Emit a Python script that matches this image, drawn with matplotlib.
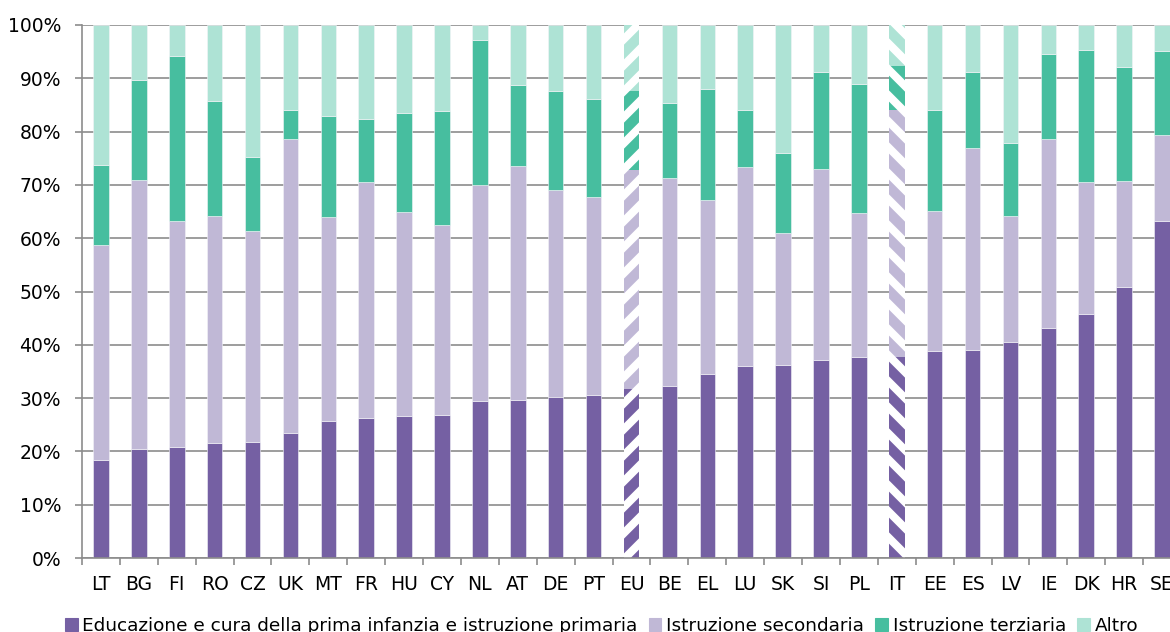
import matplotlib
matplotlib.use('Agg')
import matplotlib.pyplot as plt
import numpy as np

countries = ['LT', 'BG', 'FI', 'RO', 'CZ', 'UK', 'MT', 'FR', 'HU', 'CY', 'NL', 'AT', 'DE', 'PT', 'EU',
             'BE', 'EL', 'LU', 'SK', 'SI', 'PL', 'IT', 'EE', 'ES', 'LV', 'IE', 'DK', 'HR', 'SE']

# cumulative tops (%)
primaria = [18.4, 20.5, 20.8, 21.6, 21.8, 23.4, 25.7, 26.2, 26.7, 26.8, 29.5, 29.7, 30.3, 30.6, 31.8,
            32.3, 34.5, 36.1, 36.3, 37.1, 37.8, 37.8, 38.8, 39.1, 40.6, 43.2, 45.8, 50.8, 63.3]
top_secondaria = [58.8, 70.9, 63.2, 64.2, 61.3, 78.6, 64.0, 70.5, 64.9, 62.5, 70.0, 73.6, 69.0, 67.7, 72.8,
                  71.3, 67.1, 73.4, 61.0, 73.0, 64.7, 84.1, 65.1, 76.9, 64.2, 78.7, 70.5, 70.7, 79.4]
top_terziaria = [73.7, 89.6, 94.2, 85.8, 75.2, 84.1, 82.9, 82.4, 83.4, 83.9, 97.2, 88.8, 87.7, 86.1, 87.7,
                 85.4, 87.9, 84.1, 76.0, 91.2, 89.0, 92.3, 84.1, 91.1, 77.9, 94.5, 95.4, 92.1, 95.2]

labels = ['Educazione e cura della prima infanzia e istruzione primaria', 'Istruzione secondaria',
          'Istruzione terziaria', 'Altro']
colors = ['#7560a3', '#c0b8d6', '#47be9f', '#aee3d5']
hatched = {'EU': '/', 'IT': '\\'}

primaria = np.array(primaria)
secondaria = np.array(top_secondaria) - primaria
terziaria = np.array(top_terziaria) - np.array(top_secondaria)
altro = 100 - np.array(top_terziaria)
series = [primaria, secondaria, terziaria, altro]

# lower dpi so the hatch stripes come out at the spacing of the original;
# sizes below are given as if at 100 dpi and scaled by k
dpi = 78
k = 100.0 / dpi

plt.rcParams['font.family'] = 'DejaVu Sans'
plt.rcParams['hatch.linewidth'] = 7.5 * k

fig = plt.figure(figsize=(1170 / dpi, 632 / dpi), dpi=dpi)
ax = fig.add_axes([82 / 1170, 74 / 632, 1099 / 1170, 533 / 632])

x = np.arange(len(countries))
w = 0.41
bottom = np.zeros(len(countries))
for vals, col, lab in zip(series, colors, labels):
	for i in range(len(countries)):
		c = countries[i]
		if c in hatched:
			ax.bar(x[i], vals[i], w, bottom=bottom[i], facecolor='white', edgecolor=col,
			       linewidth=0, hatch=hatched[c], zorder=2)
		else:
			ax.bar(x[i], vals[i], w, bottom=bottom[i], color=col, edgecolor='#f4f4f8',
			       linewidth=0.4 * k, zorder=2)
	bottom += vals

ax.set_xlim(-0.5, len(countries) - 0.5)
ax.set_ylim(0, 100)
ax.set_yticks(np.arange(0, 101, 10))
ax.set_yticklabels(['%d%%' % v for v in range(0, 101, 10)])
ax.yaxis.grid(True, color='#8c8c8c', linewidth=1.2 * k, zorder=0)
ax.set_axisbelow(True)

ax.set_xticks(x)
ax.set_xticklabels(countries)
ax.set_xticks(np.arange(-0.5, len(countries), 1), minor=True)
ax.tick_params(axis='x', which='major', length=0, pad=12 * k, labelsize=13.5 * k)
ax.tick_params(axis='x', which='minor', length=5 * k, color='#8c8c8c', width=1.2 * k)
ax.tick_params(axis='y', length=5 * k, color='#8c8c8c', width=1.2 * k, pad=10 * k, labelsize=13.5 * k)

for s in ['top', 'right']:
	ax.spines[s].set_visible(False)
for s in ['left', 'bottom']:
	ax.spines[s].set_color('#8c8c8c')
	ax.spines[s].set_linewidth(1.2 * k)

handles = [plt.Rectangle((0, 0), 1, 1, color=c) for c in colors]
fig.legend(handles, labels, loc='center', bbox_to_anchor=(0.514, 1 - 626 / 632), ncol=4,
           frameon=False, fontsize=13.3 * k, handlelength=0.7, handleheight=0.7,
           handletextpad=0.25, columnspacing=0.6, borderpad=0)

fig.savefig('out.png', dpi=dpi)
